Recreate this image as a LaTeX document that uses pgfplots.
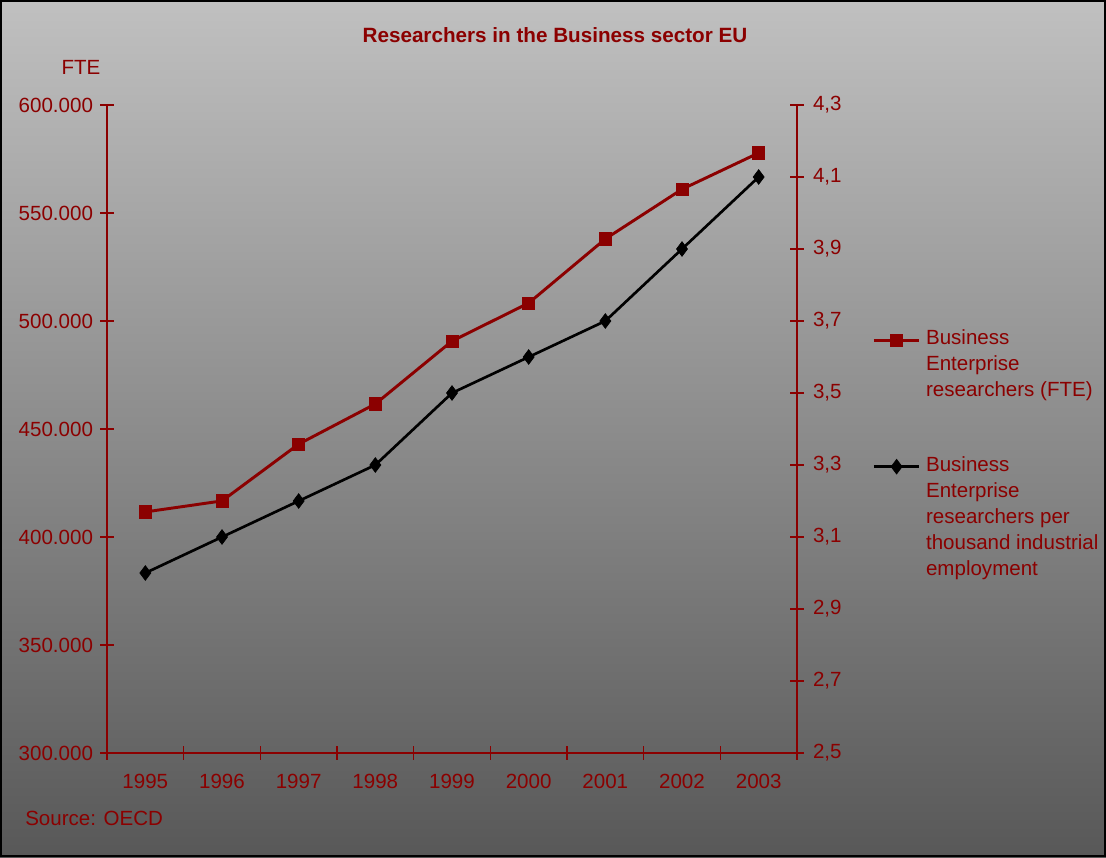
\documentclass[border=0pt]{standalone}
\usepackage{pgfplots}
\pgfplotsset{compat=1.18}
\usepackage{fontspec}
\setmainfont{Liberation Sans}
\definecolor{darkred}{RGB}{139,0,0}
\definecolor{bgtop}{RGB}{192,192,192}
\definecolor{bgbot}{RGB}{88,88,88}
\begin{document}
\begin{tikzpicture}
\useasboundingbox (0,0) rectangle (829.5pt,642.75pt);
\shade[top color=bgtop, bottom color=bgbot] (0,0) rectangle (829.5pt,642.75pt);
\draw[black, line width=1.5pt] (0.75pt,0.75pt) rectangle (828.75pt,642pt);
\node[font=\bfseries\fontsize{15.5}{18}\selectfont, text=darkred] at (416.25pt,616.5pt) {Researchers in the Business sector EU};
\node[font=\fontsize{15.4}{18}\selectfont, text=darkred] at (60.75pt,592.5pt) {FTE};
\node[font=\fontsize{15.4}{18}\selectfont, text=darkred, anchor=west, inner sep=0pt] at (18.75pt,29.25pt) {Source: OECD};
\begin{axis}[
  at={(80.25pt,78pt)}, anchor=south west,
  width=517.5pt, height=486pt, scale only axis,
  xmin=-0.5, xmax=8.5, ymin=300000, ymax=600000,
  axis x line*=bottom, axis y line*=left,
  axis line style={-, draw=darkred, line width=1pt},
  tick align=center,
  major tick length=10pt, minor tick length=10pt,
  every tick/.style={draw=darkred, line width=0.8pt},
  xtick={0,...,8},
  xticklabels={1995,1996,1997,1998,1999,2000,2001,2002,2003},
  major x tick style={draw=none},
  minor xtick={-0.5,0.5,...,8.5},
  ytick={300000,350000,400000,450000,500000,550000,600000},
  yticklabels={300.000,350.000,400.000,450.000,500.000,550.000,600.000},
  scaled y ticks=false,
  ytick pos=left,
  tick label style={font=\fontsize{15.4}{18}\selectfont, text=darkred},
  xticklabel style={yshift=-7.5pt},
  yticklabel style={xshift=-2pt},
]
\addplot[darkred, line width=2.2pt, mark=square*, mark size=4.6pt, mark options={fill=darkred, line width=0.5pt}]
  coordinates {(0,411600)(1,416700)(2,443000)(3,461600)(4,490700)(5,508300)(6,538000)(7,561000)(8,577800)};
\end{axis}
\begin{axis}[
  at={(80.25pt,78pt)}, anchor=south west,
  width=517.5pt, height=486pt, scale only axis,
  xmin=-0.5, xmax=8.5, ymin=2.5, ymax=4.3,
  axis x line=none, axis y line*=right,
  axis line style={-, draw=darkred, line width=1pt},
  tick align=center,
  major tick length=10pt,
  every tick/.style={draw=darkred, line width=0.8pt},
  ytick={2.5,2.7,2.9,3.1,3.3,3.5,3.7,3.9,4.1,4.3},
  yticklabels={{2,5},{2,7},{2,9},{3,1},{3,3},{3,5},{3,7},{3,9},{4,1},{4,3}},
  ytick pos=right,
  tick label style={font=\fontsize{15.4}{18}\selectfont, text=darkred},
  yticklabel style={xshift=3.5pt},
  legend style={at={(1.109,0.658)}, anchor=north west, draw=none, fill=none,
    inner sep=0pt, row sep=39pt, column sep=2pt,
    font=\fontsize{15.4}{19.5}\selectfont, text=darkred,
    cells={anchor=north west, align=left}},
  legend image code/.code={\path[draw=none] (0pt,0pt) -- (34pt,0pt);
    \draw[mark repeat=2, mark phase=2, #1] plot coordinates {(0pt,-10pt)(17pt,-10pt)(34pt,-10pt)};},
]
\addlegendimage{darkred, line width=2.2pt, mark=square*, mark size=4.6pt, mark options={fill=darkred, line width=0.5pt}}
\addlegendentry{Business\\Enterprise\\researchers (FTE)}
\addplot[black, line width=2pt, mark=diamond*, mark size=5.5pt, mark options={fill=black, line width=0.5pt}]
  coordinates {(0,3.0)(1,3.1)(2,3.2)(3,3.3)(4,3.5)(5,3.6)(6,3.7)(7,3.9)(8,4.1)};
\addlegendentry{Business\\Enterprise\\researchers per\\thousand industrial\\employment}
\end{axis}
\end{tikzpicture}
\end{document}
